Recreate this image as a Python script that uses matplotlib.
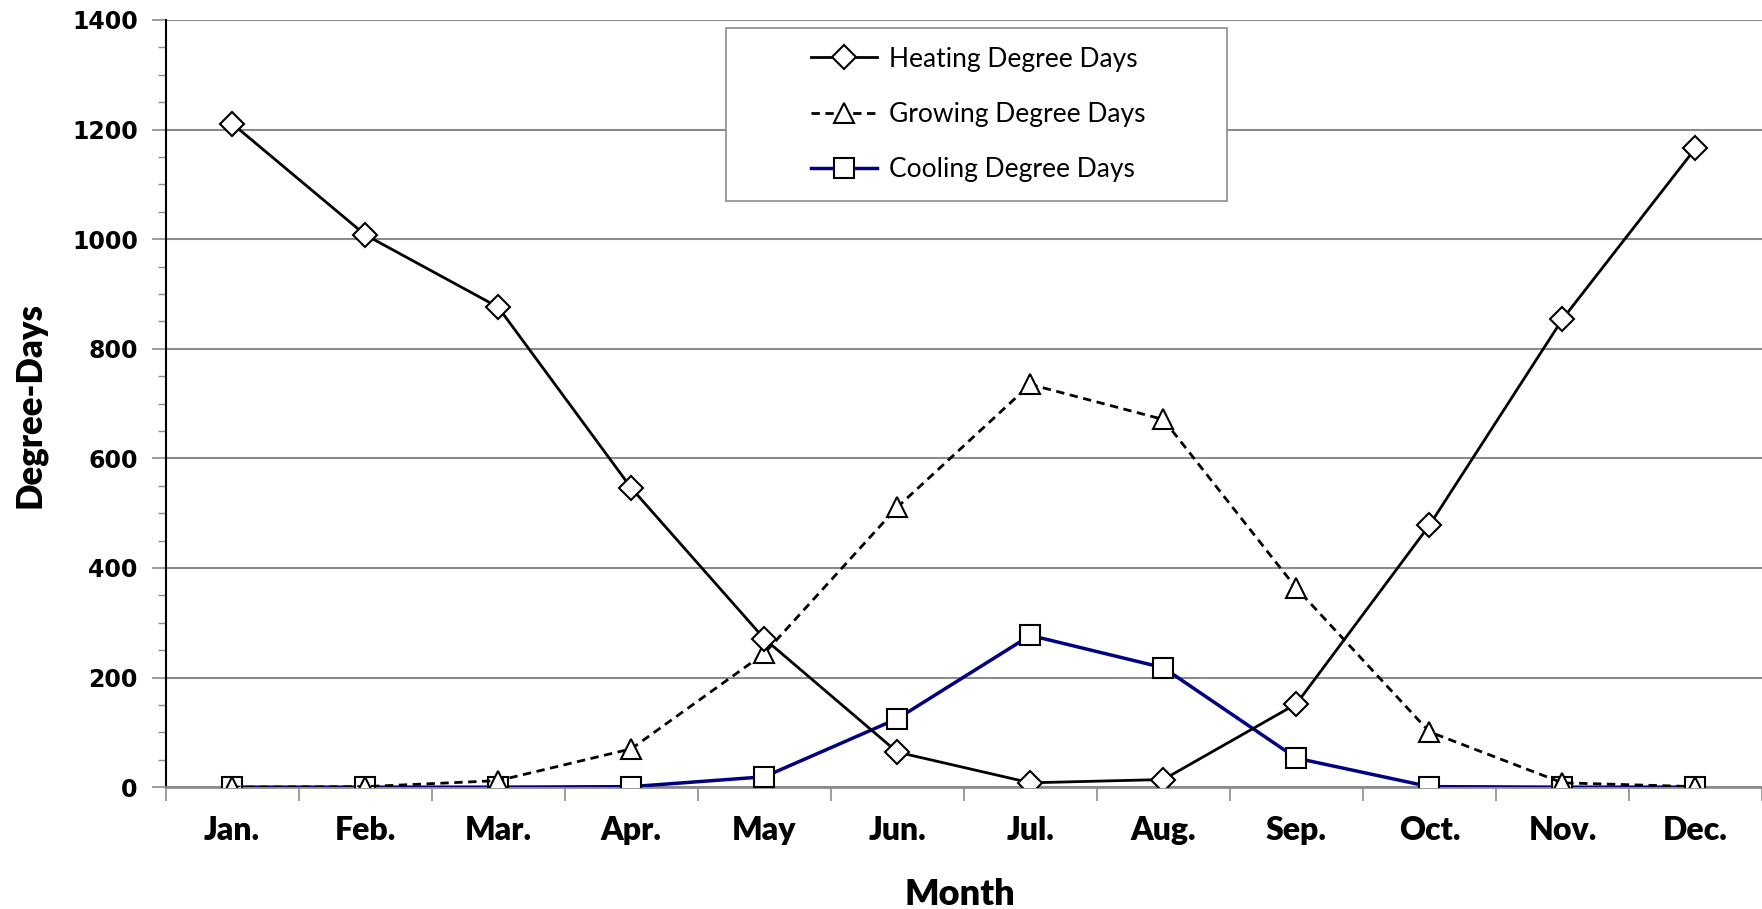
import numpy as np
import matplotlib
matplotlib.use('Agg')
import matplotlib.pyplot as plt
from matplotlib.ticker import MultipleLocator
from matplotlib.patches import Rectangle

months = ['Jan.', 'Feb.', 'Mar.', 'Apr.', 'May', 'Jun.', 'Jul.', 'Aug.', 'Sep.', 'Oct.', 'Nov.', 'Dec.']
heating = [1211, 1008, 876, 546, 271, 64, 8, 14, 152, 478, 854, 1166]
growing = [0, 1, 12, 70, 244, 511, 735, 671, 363, 101, 8, 1]
cooling = [0, 0, 0, 1, 19, 125, 277, 218, 53, 1, 0, 0]

x = np.arange(len(months))

fig = plt.figure(figsize=(17.62, 9.09), dpi=100)
ax = fig.add_axes([0.094, 0.134, 0.906, 0.844])

ax.plot(x, heating, color='black', lw=2, marker='D', ms=12.5, mfc='white', mec='black', mew=1.5,
        label='Heating Degree Days', zorder=4)
ax.plot(x, growing, color='black', lw=2, ls=(0, (3, 2)), marker='^', ms=15, mfc='white', mec='black', mew=1.5,
        label='Growing Degree Days', zorder=3.5)
ax.plot(x, cooling, color='#000080', lw=2.5, marker='s', ms=14.5, mfc='white', mec='black', mew=1.5,
        label='Cooling Degree Days', zorder=3)

ax.set_xlim(-0.5, 11.5)
ax.set_ylim(0, 1400)
ax.yaxis.set_major_locator(MultipleLocator(200))
ax.yaxis.set_minor_locator(MultipleLocator(50))
ax.grid(axis='y', which='major', color='#8c8c8c', lw=1.5, zorder=0)

ax.set_xticks(x)
ax.set_xticklabels(months, fontfamily='Lato', fontweight='heavy', fontsize=23)
ax.set_xticks(np.arange(-0.5, 12, 1), minor=True)
ax.tick_params(axis='x', which='major', length=0, pad=21)
ax.tick_params(axis='x', which='minor', length=10, width=1.2, color='#8c8c8c', direction='out')
ax.tick_params(axis='y', which='major', length=10, width=1.2, color='#8c8c8c', pad=10)
ax.tick_params(axis='y', which='minor', length=6, width=1, color='#8c8c8c')
for lbl in ax.get_yticklabels():
    lbl.set_fontfamily('DejaVu Sans')
    lbl.set_fontweight('bold')
    lbl.set_fontsize(17)

ax.spines['right'].set_visible(False)
ax.spines['top'].set_visible(False)
ax.spines['left'].set_color('black')
ax.spines['left'].set_linewidth(1.5)
ax.spines['bottom'].set_color('#8c8c8c')
ax.spines['bottom'].set_linewidth(2)

fig.text(0.545, 0.016, 'Month', fontfamily='Lato', fontweight='heavy', fontsize=26, ha='center', va='center')
fig.text(0.017, 0.555, 'Degree-Days', fontfamily='Lato', fontweight='heavy', fontsize=25,
         ha='center', va='center', rotation=90)

box = Rectangle((0.351, 0.764), 0.314, 0.226, transform=ax.transAxes, facecolor='white',
                edgecolor='#8c8c8c', lw=1.2, zorder=5)
ax.add_patch(box)
leg = ax.legend(loc='center', bbox_to_anchor=(0.509, 0.877), prop={'family': 'Lato', 'size': 19},
                frameon=False, labelspacing=1.15, handlelength=2.5, handletextpad=0.45, borderaxespad=0)
leg.set_zorder(6)

fig.savefig('out.png', dpi=100)
